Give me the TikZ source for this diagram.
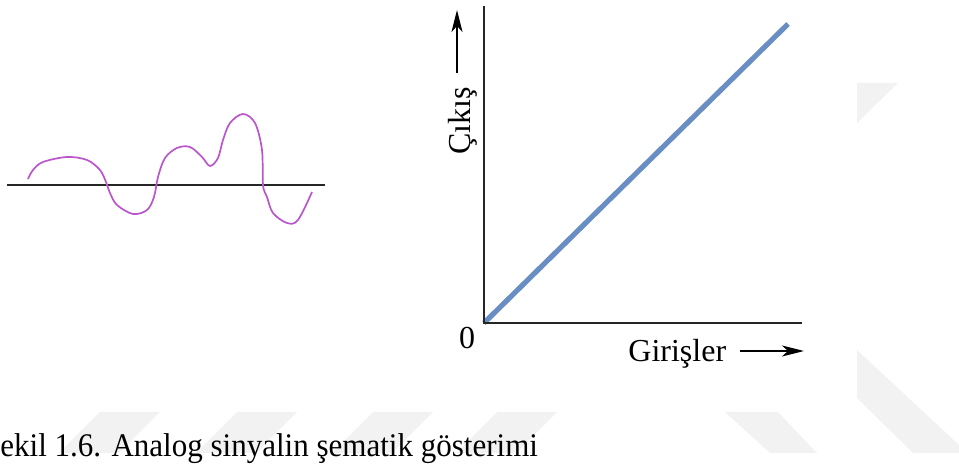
\documentclass[tikz,border=0pt]{standalone}
\usepackage{fontspec}
\setmainfont{Liberation Serif}
\usetikzlibrary{arrows.meta}
\definecolor{sigpurple}{RGB}{186,85,204}
\definecolor{lineblue}{RGB}{104,142,196}
\definecolor{wmgray}{RGB}{242,242,242}
\tikzset{pix/.style={x=0.5pt,y=-0.5pt,font=\fontsize{16}{19}\selectfont},
  axisline/.style={line width=0.9pt,black!85},
  lbl/.style={inner sep=0pt},
  dirarrow/.style={line width=1.2pt,-{Stealth[length=11pt,width=5.5pt,inset=3pt]}}}

\begin{document}
\begin{tikzpicture}[pix]
    \useasboundingbox (0,0) rectangle (959,464);
    % faint watermark
    \foreach \x in {100,237,373,497} \fill[wmgray] (\x,412) -- (\x+60,412) -- (\x+19,453) -- (\x-41,453) -- cycle;
    \fill[wmgray] (725,412) -- (778,412) -- (817,453) -- (770,453) -- cycle;
    \fill[wmgray] (857,350) -- (959,445) -- (959,453) -- (913,453) -- (857,398) -- cycle;
    \fill[wmgray] (857,83) -- (898,83) -- (857,123) -- cycle;
    % analog signal
    \coordinate (w0) at (7,185);
    \coordinate (w1) at (325,185);
    \draw[axisline] (w0) -- (w1);
    \draw[sigpurple,line width=0.85pt] plot[smooth,tension=0.55] coordinates {
      (28,179) (33,170) (43,162) (67,157) (87,160) (100,170) (106,182) (110,193)
      (117,205) (133,214) (147,210) (154,197) (158,177) (165,158) (177,148) (190,147)
      (202,157) (210,166) (218,158) (223,140) (230,123) (243,114) (255,123) (262,150)
      (263,185) (267,197) (273,213) (287,223) (298,220) (312,192)};
    % transfer graph
    \coordinate (O) at (484,323);
    \coordinate (ytop) at (484,6);
    \coordinate (xend) at (802,323);
    \coordinate (ltop) at (788,24);
    \draw[lineblue,line width=2.6pt] (O) -- (ltop);
    \draw[axisline] (ytop) -- (O) -- (xend);
    \node[lbl] (zero) at (467,338) {0};
    \node[lbl,anchor=base west] (xlbl) at (628,362) {Girişler};
    \coordinate (xa0) at (740,351);
    \coordinate (xa1) at (804,351);
    \draw[dirarrow] (xa0) -- (xa1);
    \node[lbl,rotate=90,anchor=base west] (ylbl) at (470,155) {Çıkış};
    \coordinate (ya0) at (457,73);
    \coordinate (ya1) at (457,10);
    \draw[dirarrow] (ya0) -- (ya1);
    \node[lbl,anchor=base west,xscale=0.94,font=\fontsize{16.5}{19}\selectfont] (cap) at (0,457) {ekil 1.6. Analog sinyalin şematik gösterimi};
\end{tikzpicture}
\end{document}
